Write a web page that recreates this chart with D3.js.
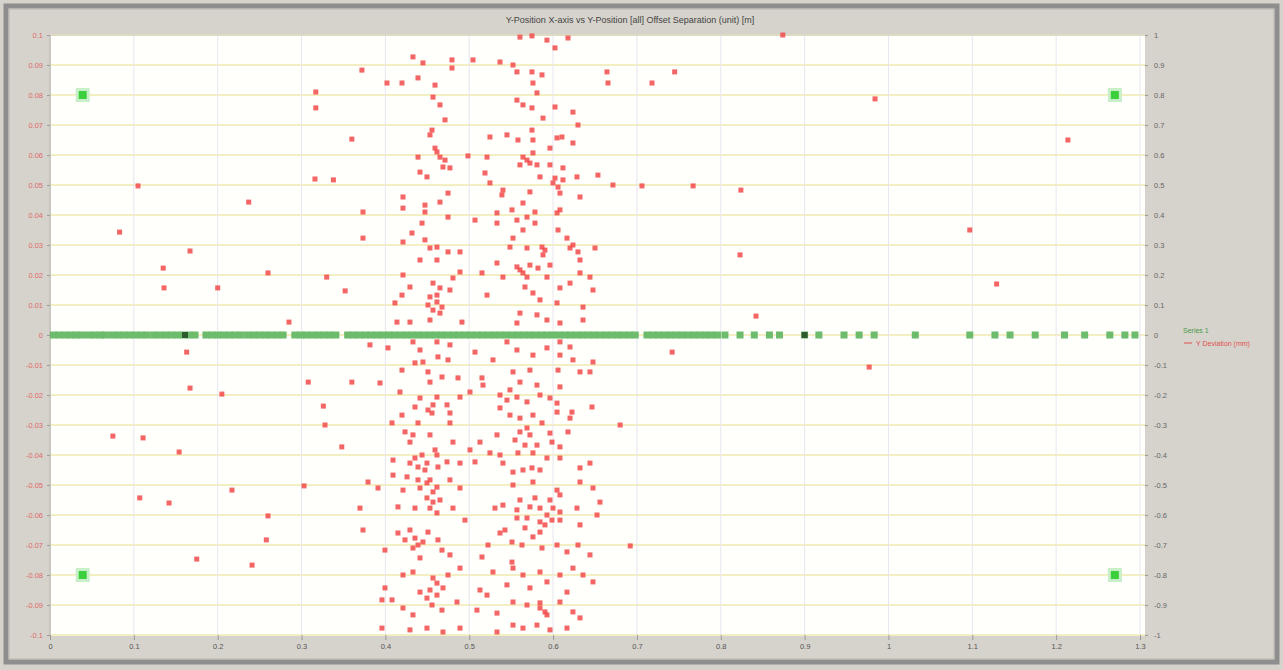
<!DOCTYPE html>
<html><head><meta charset="utf-8">
<script src="https://cdn.jsdelivr.net/npm/d3@7/dist/d3.min.js"></script>
<style>html,body{margin:0;padding:0;background:#d4d0c8;overflow:hidden}svg{display:block}</style>
</head><body><svg id="c" width="1283" height="670"></svg>
<script>
const chartTitle = "Y-Position X-axis vs Y-Position [all] Offset Separation (unit) [m]";
const xTicks = [0,0.1,0.2,0.3,0.4,0.5,0.6,0.7,0.8,0.9,1,1.1,1.2,1.3];
const xTickLabels = ["0","0.1","0.2","0.3","0.4","0.5","0.6","0.7","0.8","0.9","1","1.1","1.2","1.3"];
const leftTicks = [0.1,0.09,0.08,0.07,0.06,0.05,0.04,0.03,0.02,0.01,0,-0.01,-0.02,-0.03,-0.04,-0.05,-0.06,-0.07,-0.08,-0.09,-0.1];
const leftTickLabels = ["0.1","0.09","0.08","0.07","0.06","0.05","0.04","0.03","0.02","0.01","0","-0.01","-0.02","-0.03","-0.04","-0.05","-0.06","-0.07","-0.08","-0.09","-0.1"];
const rightTicks = [1,0.9,0.8,0.7,0.6,0.5,0.4,0.3,0.2,0.1,0,-0.1,-0.2,-0.3,-0.4,-0.5,-0.6,-0.7,-0.8,-0.9,-1];
const rightTickLabels = ["1","0.9","0.8","0.7","0.6","0.5","0.4","0.3","0.2","0.1","0","-0.1","-0.2","-0.3","-0.4","-0.5","-0.6","-0.7","-0.8","-0.9","-1"];
const legendNames = ["Series 1","Y Deviation (mm)"];

// green series (right axis, value 0)
const greenX = [0.004,0.011,0.018,0.025,0.031,0.038,0.046,0.053,0.060,0.066,0.074,0.081,0.088,0.095,0.102,0.109,0.116,0.124,0.131,0.138,0.145,0.152,0.159,0.166,0.173,0.186,0.193,0.200,0.207,0.214,0.221,0.228,0.236,0.243,0.250,0.257,0.264,0.271,0.278,0.292,0.299,0.306,0.313,0.320,0.327,0.334,0.341,0.355,0.362,0.369,0.376,0.383,0.390,0.397,0.404,0.411,0.418,0.425,0.432,0.439,0.446,0.453,0.460,0.467,0.474,0.481,0.488,0.495,0.502,0.509,0.516,0.523,0.530,0.537,0.544,0.551,0.558,0.565,0.572,0.579,0.586,0.593,0.600,0.607,0.614,0.621,0.628,0.635,0.642,0.649,0.656,0.663,0.670,0.677,0.684,0.691,0.698,0.712,0.719,0.726,0.733,0.740,0.747,0.754,0.761,0.768,0.775,0.782,0.789,0.796,0.805,0.823,0.840,0.858,0.870,0.900,0.917,0.947,0.965,0.983,1.032,1.097,1.127,1.145,1.175,1.210,1.234,1.264,1.282,1.294];
const greenY = greenX.map(() => 0);
const darkX = [0.161, 0.900];
const cornerX = [0.039, 0.039, 1.270, 1.270];
const cornerY = [0.8, -0.8, 0.8, -0.8];

// red series (left axis)
const redPoints = [
[0.5605,0.0993],[0.5748,0.0997],[0.5927,0.0983],[0.6023,0.0957],[0.6178,0.099],[0.4329,0.0927],[0.4448,0.0907],[0.4794,0.0917],[0.4794,0.089],[0.5045,0.0917],[0.5367,0.091],[0.5522,0.09],[0.5569,0.0877],[0.5748,0.0877],[0.5868,0.0867],[0.6643,0.0877],[0.6655,0.084],[0.4019,0.084],[0.4198,0.084],[0.4389,0.0857],[0.4592,0.0833],[0.576,0.084],[0.5808,0.0807],[0.4568,0.0793],[0.4651,0.0767],[0.5569,0.0783],[0.5641,0.0767],[0.5748,0.0757],[0.6023,0.076],[0.6237,0.0743],[0.588,0.0723],[0.4711,0.0717],[0.6297,0.07],[0.5748,0.0683],[0.4556,0.0683],[0.4532,0.0667],[0.5247,0.066],[0.545,0.0667],[0.5581,0.065],[0.576,0.065],[0.6047,0.0657],[0.6106,0.066],[0.6237,0.064],[0.5963,0.0623],[0.4592,0.0623],[0.4651,0.0593],[0.4389,0.0593],[0.4985,0.0597],[0.5212,0.0593],[0.5641,0.0593],[0.576,0.0607],[0.5724,0.0573],[0.4687,0.056],[0.477,0.0557],[0.4413,0.0543],[0.4496,0.0527],[0.5188,0.054],[0.5247,0.0507],[0.5963,0.0567],[0.6118,0.0557],[0.6285,0.0527],[0.6535,0.0533],[0.6714,0.05],[0.5844,0.0527],[0.5999,0.0507],[0.6059,0.0493],[0.6082,0.0473],[0.5402,0.0483],[0.539,0.0467],[0.5724,0.0477],[0.5641,0.044],[0.6321,0.046],[0.421,0.046],[0.421,0.0423],[0.4472,0.0433],[0.4472,0.041],[0.4651,0.0443],[0.4747,0.0473],[0.4747,0.0393],[0.5069,0.0383],[0.5331,0.0407],[0.5331,0.0373],[0.551,0.0417],[0.5569,0.0383],[0.5689,0.0393],[0.5784,0.041],[0.5784,0.0373],[0.6047,0.0407],[0.6082,0.0417],[0.4437,0.0373],[0.3733,0.041],[0.3733,0.0323],[0.421,0.031],[0.4317,0.034],[0.4472,0.0317],[0.4532,0.029],[0.4615,0.0293],[0.4747,0.0277],[0.489,0.0277],[0.4413,0.025],[0.4615,0.025],[0.5522,0.0323],[0.5641,0.035],[0.5486,0.0293],[0.5689,0.029],[0.5868,0.0293],[0.588,0.0267],[0.6059,0.035],[0.6166,0.0323],[0.6202,0.029],[0.6297,0.0277],[0.6321,0.025],[0.65,0.029],[0.5331,0.024],[0.5569,0.0227],[0.5641,0.0207],[0.5689,0.0193],[0.582,0.0223],[0.5963,0.0233],[0.5927,0.0193],[0.6321,0.0207],[0.644,0.0193],[0.421,0.02],[0.4293,0.016],[0.4198,0.0133],[0.4114,0.0107],[0.489,0.021],[0.4806,0.019],[0.5152,0.0207],[0.5402,0.0193],[0.4568,0.0173],[0.4651,0.0157],[0.477,0.015],[0.4532,0.0127],[0.4615,0.011],[0.4675,0.0093],[0.4568,0.0083],[0.4532,0.005],[0.4138,0.0043],[0.4293,0.0043],[0.4913,0.0043],[0.5212,0.0133],[0.5665,0.016],[0.576,0.014],[0.5844,0.0117],[0.6082,0.0157],[0.6202,0.0173],[0.6476,0.015],[0.6047,0.0107],[0.6357,0.0093],[0.5605,0.0073],[0.5808,0.0067],[0.5927,0.005],[0.6082,0.004],[0.6357,0.005],[0.5569,0.004],
[0.5689,0.0583],[0.5808,0.0567],[0.5605,0.0567],[0.6023,0.0523],[0.6118,0.0517],[0.5605,0.0217],[0.5724,0.0233],[0.4615,0.0133],[0.4651,0.0073],[0.4508,0.01],[0.4615,0.061],[0.4711,0.0583],[0.6237,0.03],[0.5903,0.0283],
[0.3816,-0.0033],[0.4031,-0.0043],[0.4329,-0.0023],[0.4413,-0.005],[0.4615,-0.0023],[0.477,-0.0033],[0.4627,-0.0073],[0.4747,-0.0083],[0.4353,-0.0093],[0.4448,-0.009],[0.5069,-0.0057],[0.5283,-0.0083],[0.545,-0.0023],[0.5569,-0.005],[0.576,-0.0067],[0.5927,-0.0043],[0.6082,-0.0023],[0.6082,-0.0067],[0.6202,-0.004],[0.6237,-0.0083],[0.6476,-0.009],[0.4198,-0.0117],[0.4508,-0.0123],[0.4675,-0.014],[0.4866,-0.0143],[0.3936,-0.016],[0.4532,-0.0157],[0.5152,-0.0143],[0.5164,-0.0167],[0.5522,-0.0123],[0.5724,-0.0117],[0.5605,-0.0157],[0.5486,-0.0183],[0.5808,-0.0167],[0.6059,-0.0117],[0.6082,-0.0173],[0.6321,-0.0123],[0.644,-0.0123],[0.4174,-0.019],[0.4413,-0.021],[0.4615,-0.0207],[0.4735,-0.0233],[0.489,-0.0207],[0.5009,-0.019],[0.5367,-0.02],[0.545,-0.0217],[0.5569,-0.0207],[0.5689,-0.0223],[0.5844,-0.02],[0.5963,-0.021],[0.6047,-0.0227],[0.4353,-0.024],[0.4556,-0.026],[0.477,-0.026],[0.4198,-0.0267],[0.4079,-0.0293],[0.4389,-0.0293],[0.477,-0.0293],[0.5367,-0.0243],[0.5486,-0.0267],[0.5605,-0.0277],[0.576,-0.0267],[0.5868,-0.0293],[0.6047,-0.0257],[0.6225,-0.0257],[0.6202,-0.0277],[0.6464,-0.024],[0.4234,-0.0323],[0.4329,-0.0333],[0.4293,-0.0357],[0.4532,-0.0333],[0.4806,-0.0357],[0.4592,-0.0383],[0.4615,-0.04],[0.5128,-0.0357],[0.5331,-0.0333],[0.5605,-0.0323],[0.5724,-0.0333],[0.5665,-0.0367],[0.5808,-0.0367],[0.5963,-0.0327],[0.5987,-0.0357],[0.6082,-0.0373],[0.6178,-0.0323],[0.576,-0.0393],[0.5581,-0.0393],[0.5247,-0.0393],[0.5927,-0.041],[0.6082,-0.041],[0.4091,-0.0417],[0.4293,-0.0427],[0.4389,-0.044],[0.4496,-0.0427],[0.4627,-0.044],[0.4735,-0.0423],[0.489,-0.0427],[0.5069,-0.0423],[0.5402,-0.0427],[0.5522,-0.0457],[0.5641,-0.045],[0.5748,-0.0443],[0.5844,-0.045],[0.6321,-0.0443],[0.644,-0.0427],[0.4091,-0.0467],[0.4258,-0.0473],[0.4389,-0.0483],[0.4496,-0.0493],[0.4615,-0.0507],[0.4413,-0.051],[0.477,-0.0483],[0.3793,-0.049],[0.3912,-0.051],[0.489,-0.051],[0.421,-0.0517],[0.5522,-0.05],[0.576,-0.049],[0.6047,-0.0517],[0.6082,-0.0533],[0.6321,-0.049],[0.6476,-0.051],[0.4496,-0.0543],[0.4568,-0.0557],[0.4651,-0.055],[0.4806,-0.0577],[0.415,-0.0573],[0.4353,-0.0577],[0.4532,-0.0577],[0.4615,-0.0593],[0.5307,-0.0577],[0.5402,-0.0567],[0.5569,-0.0583],[0.5724,-0.0573],[0.5844,-0.0577],[0.5927,-0.06],[0.5999,-0.0577],[0.6082,-0.059],[0.6285,-0.0577],[0.6559,-0.0557],[0.6524,-0.06],[0.3697,-0.0577],[0.5569,-0.061],[0.5689,-0.061],[0.5844,-0.0623],[0.5987,-0.0617],[0.6321,-0.0633],[0.3733,-0.065],[0.415,-0.066],[0.4293,-0.065],[0.4353,-0.0677],[0.4448,-0.069],[0.4508,-0.0657],[0.4627,-0.0683],[0.4675,-0.0717],[0.477,-0.0733],[0.4329,-0.071],[0.3995,-0.0717],[0.5367,-0.066],[0.551,-0.069],[0.5629,-0.07],[0.576,-0.0673],[0.5844,-0.0657],[0.5868,-0.071],[0.6047,-0.07],[0.6166,-0.0723],[0.6297,-0.07],[0.644,-0.0733],[0.5224,-0.07],[0.5152,-0.074],[0.4413,-0.0743],[0.551,-0.0757],[0.5522,-0.0777],[0.421,-0.08],[0.4329,-0.079],[0.4568,-0.081],[0.4747,-0.08],[0.489,-0.0777],[0.4615,-0.0827],[0.4687,-0.0843],[0.3995,-0.0843],[0.3959,-0.0883],[0.4079,-0.0883],[0.4413,-0.0857],[0.4496,-0.0877],[0.4556,-0.09],[0.4675,-0.0917],[0.4854,-0.089],[0.421,-0.091],[0.4329,-0.0933],[0.5283,-0.079],[0.545,-0.0833],[0.5641,-0.08],[0.5724,-0.0843],[0.5844,-0.079],[0.5927,-0.0823],[0.6082,-0.08],[0.6237,-0.0777],[0.6357,-0.08],[0.6476,-0.0823],[0.6166,-0.0857],[0.5212,-0.0867],[0.5522,-0.089],[0.5689,-0.09],[0.5844,-0.091],[0.5927,-0.0933],[0.6082,-0.089],[0.6237,-0.0923],[0.6321,-0.0943],[0.5092,-0.0917],[0.5331,-0.0927],[0.5522,-0.0967],[0.5641,-0.0977],[0.5808,-0.0967],[0.5963,-0.0983],[0.6166,-0.0977],[0.3959,-0.0977],[0.4293,-0.0983],[0.4496,-0.0977],[0.4687,-0.099],[0.489,-0.0977],[0.5331,-0.099],
[0.4568,-0.0233],[0.4508,-0.025],[0.4472,-0.045],[0.4568,-0.0523],[0.4532,-0.0483],[0.5605,-0.055],[0.5784,-0.0543],[0.5903,-0.0633],[0.5665,-0.0643],[0.5963,-0.055],[0.5546,-0.035],[0.5689,-0.031],[0.4389,-0.07],[0.4234,-0.0683],[0.4532,-0.085],[0.4615,-0.0867],[0.5844,-0.0893],[0.5903,-0.0923],[0.4353,-0.041],[0.4437,-0.04],[0.6082,-0.0617],[0.5426,-0.065],[0.5367,-0.04],[0.5009,-0.0383],[0.4949,-0.0617],[0.5128,-0.085],
[0.874,0.1],[0.745,0.0877],[0.718,0.084],[0.984,0.0787],[1.214,0.065],[0.105,0.0497],[0.706,0.0497],[0.767,0.0497],[0.824,0.0483],[0.237,0.0443],[0.083,0.0343],[1.097,0.035],[0.167,0.028],[0.823,0.0267],[0.135,0.0223],[0.26,0.0207],[0.136,0.0157],[0.2,0.0157],[1.129,0.017],[0.842,0.0063],[0.285,0.0043],[0.33,0.0193],[0.352,0.0147],[0.316,0.052],[0.338,0.0517],[0.317,0.081],[0.317,0.0757],[0.36,0.0653],[0.372,0.0883],
[0.742,-0.0057],[0.977,-0.0107],[0.163,-0.0057],[0.308,-0.0157],[0.167,-0.0177],[0.205,-0.0197],[0.36,-0.0157],[0.326,-0.0237],[0.075,-0.0337],[0.111,-0.0343],[0.154,-0.039],[0.328,-0.03],[0.348,-0.0373],[0.68,-0.03],[0.217,-0.0517],[0.303,-0.0503],[0.107,-0.0543],[0.142,-0.056],[0.26,-0.0603],[0.258,-0.0683],[0.175,-0.0747],[0.241,-0.0767],[0.692,-0.0703]
];

const W = 1283, H = 670;
const L = 50, R = 1140, T = 35, B = 635;
const svg = d3.select("#c");
const font = "Liberation Sans, Arial, sans-serif";

// outer frame
svg.append("rect").attr("x",0).attr("y",0).attr("width",W).attr("height",H).attr("fill","#d6d3cc");
svg.append("rect").attr("x",6).attr("y",6).attr("width",W-12).attr("height",H-14)
  .attr("fill","none").attr("stroke","#8e8e8e").attr("stroke-width",5);
svg.append("rect").attr("x",9).attr("y",9).attr("width",W-18).attr("height",H-20)
  .attr("fill","#d6d3cc").attr("stroke","#b8b5ae").attr("stroke-width",1);

const x = d3.scaleLinear().domain([0,1.3]).range([L,R]);
const yL = d3.scaleLinear().domain([-0.1,0.1]).range([B,T]);
const yR = d3.scaleLinear().domain([-1,1]).range([B,T]);

// plot background
svg.append("rect").attr("x",L).attr("y",T).attr("width",R-L+5).attr("height",B-T)
  .attr("fill","#fffffb");

// grid
svg.append("g").selectAll("line").data(leftTicks).join("line")
  .attr("x1",L).attr("x2",R+5).attr("y1",d=>yL(d)).attr("y2",d=>yL(d))
  .attr("stroke","#f4efc2").attr("stroke-width",2);
svg.append("g").selectAll("line").data(xTicks).join("line")
  .attr("x1",d=>x(d)).attr("x2",d=>x(d)).attr("y1",T).attr("y2",B)
  .attr("stroke","#e6e6f2").attr("stroke-width",1);

// plot edge shading
svg.append("line").attr("x1",L).attr("x2",L).attr("y1",T).attr("y2",B).attr("stroke","#c9c6bf").attr("stroke-width",2);
svg.append("line").attr("x1",L).attr("x2",R+5).attr("y1",T).attr("y2",T).attr("stroke","#c9c6bf").attr("stroke-width",1);

// axes
const styleAxis = (g, color) => {
  g.select(".domain").remove();
  g.selectAll("line").attr("stroke","#9a9a9a");
  g.selectAll("text").attr("fill",color).style("font-family",font).style("font-size","7.5px");
};
svg.append("g").attr("transform",`translate(0,${B})`)
  .call(d3.axisBottom(x).tickValues(xTicks).tickFormat((d,i)=>xTickLabels[i]).tickSize(5).tickPadding(4))
  .call(g=>styleAxis(g,"#555"));
svg.append("g").attr("transform",`translate(${L},0)`)
  .call(d3.axisLeft(yL).tickValues(leftTicks).tickFormat((d,i)=>leftTickLabels[i]).tickSize(3).tickPadding(4))
  .call(g=>styleAxis(g,"#e06a6a"));
svg.append("g").attr("transform",`translate(${R+5},0)`)
  .call(d3.axisRight(yR).tickValues(rightTicks).tickFormat((d,i)=>rightTickLabels[i]).tickSize(3).tickPadding(6))
  .call(g=>styleAxis(g,"#666"));

// title
svg.append("text").attr("x",630).attr("y",23).attr("text-anchor","middle")
  .attr("fill","#444").style("font-family",font).style("font-size","9px").text(chartTitle);

// green series
svg.append("g").selectAll("rect").data(greenX).join("rect")
  .attr("x",d=>x(d)-3.5).attr("y",(d,i)=>yR(greenY[i])-3.5).attr("width",7).attr("height",7)
  .attr("fill","#6dbb6d");
svg.append("g").selectAll("rect").data(darkX).join("rect")
  .attr("x",d=>x(d)-3).attr("y",yR(0)-3).attr("width",6).attr("height",6)
  .attr("fill","#2f5a2f");

// corner markers
const cg = svg.append("g");
cg.selectAll("rect.h").data(cornerX).join("rect").attr("class","h")
  .attr("x",d=>x(d)-7).attr("y",(d,i)=>yR(cornerY[i])-7).attr("width",14).attr("height",14)
  .attr("fill","#c8efc8");
cg.selectAll("rect.c").data(cornerX).join("rect").attr("class","c")
  .attr("x",d=>x(d)-4).attr("y",(d,i)=>yR(cornerY[i])-4).attr("width",8).attr("height",8)
  .attr("fill","#3ccf3c");

// red series
svg.append("g").selectAll("rect").data(redPoints).join("rect")
  .attr("x",d=>x(d[0])-2.5).attr("y",d=>yL(d[1])-2.5).attr("width",5).attr("height",5)
  .attr("fill","#f24a4a").attr("opacity",0.85);

// legend
svg.append("text").attr("x",1183).attr("y",333).attr("fill","#4a9a4a")
  .style("font-family",font).style("font-size","7px").text(legendNames[0]);
svg.append("line").attr("x1",1184).attr("x2",1192).attr("y1",343).attr("y2",343).attr("stroke","#e05050").attr("stroke-width",1);
svg.append("text").attr("x",1196).attr("y",346).attr("fill","#e05050")
  .style("font-family",font).style("font-size","7px").text(legendNames[1]);
</script>
</body></html>
